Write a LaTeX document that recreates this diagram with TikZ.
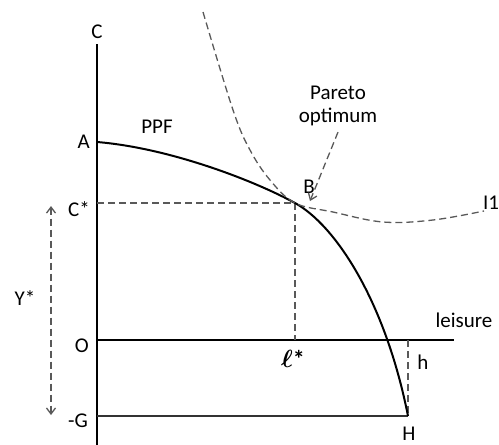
\documentclass[tikz,border=0pt]{standalone}
\usepackage{bm}
\usepackage{fontspec}
\setmainfont{Carlito}
\usepackage{tikz}
\usetikzlibrary{arrows.meta}

\begin{document}
\begin{tikzpicture}[
  x=1pt, y=-1pt,
  lbl/.style={font=\fontsize{21}{23}\selectfont, inner sep=0pt},
  axis/.style={line width=2.2pt, black},
  guide/.style={dash pattern=on 7pt off 4pt, line width=1.3pt, black!65},
  ppf/.style={line width=2pt, black},
  >={Straight Barb[length=6pt, width=9pt, line width=1.3pt]}
]
\useasboundingbox (0,0) rectangle (499,445);

% ── Key points ──
\coordinate (top) at (97,44);
\coordinate (bot) at (97,445);
\coordinate (A) at (97,142);
\coordinate (B) at (295,203);
\coordinate (Cs) at (97,203);
\coordinate (O) at (97,340);
\coordinate (Oend) at (454,340);
\coordinate (G) at (97,416);
\coordinate (H) at (408,416);
\coordinate (Hup) at (408,340);
\coordinate (Ls) at (295,340);

% ── Axes ──
\draw[axis] (top) -- (bot);
\draw[axis] (O) -- (Oend);
\draw[line width=1.6pt, black!80] (G) -- (H);

% ── Guides ──
\draw[guide] (Cs) -- (B);
\draw[guide] (B) -- (Ls);
\draw[guide] (Hup) -- (H);

% ── PPF ──
\draw[ppf] (A) .. controls (170,148) and (255,181) .. (B)
           .. controls (335,225) and (385,300) .. (H);

% ── Indifference curve ──
\draw[guide] plot[smooth, tension=0.6] coordinates
  {(203,12) (233,110) (250,150) (270,180) (295,203) (333,212) (383,222) (433,220) (484,211)};

% ── Y* span ──
\coordinate (ytop) at (51,206);
\coordinate (ybot) at (51,415);
\draw[guide, <->] (ytop) -- (ybot);

% ── Labels ──
\node[lbl] (lC) at (97,32) {C};
\node[lbl, anchor=east] (lA) at (90,142) {A};
\node[lbl, anchor=east] (lCs) at (90,209) {C*};
\node[lbl, anchor=east] (lO) at (89,346) {O};
\node[lbl, anchor=east] (lG) at (88,421) {-G};
\node[lbl] (lY) at (25,298) {Y*};
\node[lbl] (lPPF) at (157,127) {PPF};
\node[lbl] (lB) at (309,187) {B};
\node[lbl] (lI) at (491,203) {I1};
\node[lbl] (lleis) at (464,320) {leisure};
\node[lbl] (lh) at (423,362) {h};
\node[lbl] (lH) at (409,434) {H};
\node[lbl, font=\fontsize{24}{26}\selectfont] (lL) at (293,359) {$\bm{\ell}$\textbf{*}};
\node[lbl, align=center] (pareto) at (338,106) {Pareto\\optimum};

% ── Pointer to B ──
\coordinate (ptr) at (310,201);
\draw[guide, ->] (pareto.south) ++(0,6) -- (ptr);

\end{tikzpicture}
\end{document}
